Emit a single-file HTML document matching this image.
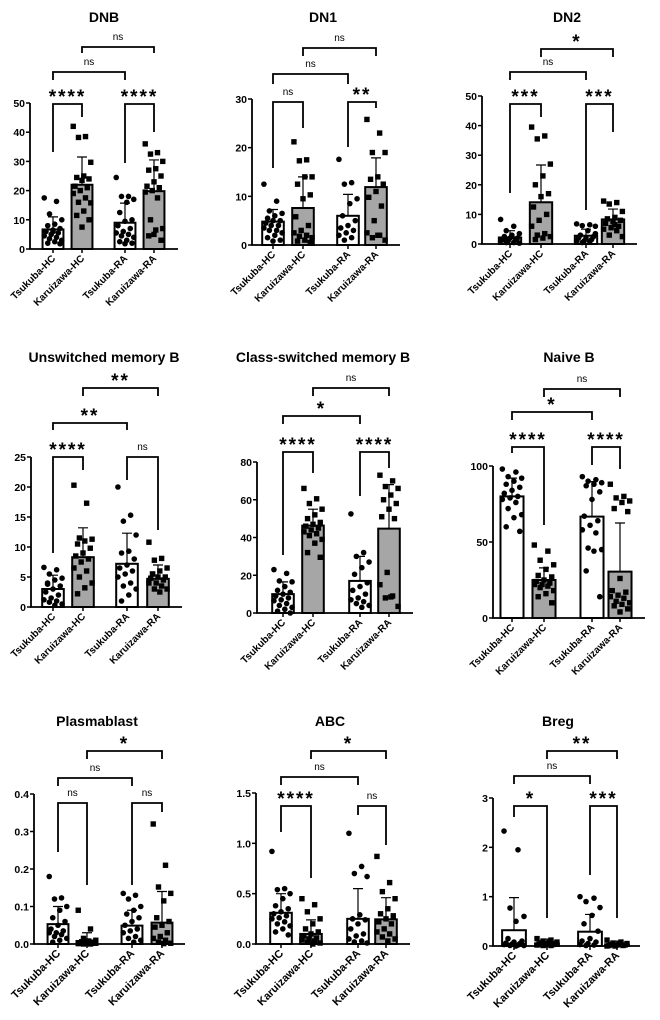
<!DOCTYPE html>
<html><head><meta charset="utf-8"><style>
body{margin:0;background:#fff;}
svg{display:block;font-family:"Liberation Sans",sans-serif;}
</style></head><body>
<svg id="fig" width="660" height="1020" viewBox="0 0 660 1020"></svg>
<script>
const groups = ["Tsukuba-HC","Karuizawa-HC","Tsukuba-RA","Karuizawa-RA"];

const dnbMeans=[6.7,22,9,19.8], dnbSD=[4.3,9.5,6.7,10.7];
const dnbPts=[[17.5,16.3,12,10,8.5,8,7,6.5,6,5.5,5,4.5,4,3.5,3,2.5,2,1.8,6],[42,38.5,38.2,29.7,25,24.5,24,23.5,21.5,21,20,19,17.5,16,15.8,13,11.5,10,7.5],[24.5,18,18,17,16,12.5,10,9.5,8,7,6,5.5,5,4.5,4,3,2.5,2,1.8],[36,33,32.5,30,27.5,27,25,23,21.5,21,20,19.5,17.5,10,7,6.5,4.5,3,5]];
const dnbTicks=[0,10,20,30,40,50];

const dn1Means=[4.8,7.6,6,11.9], dn1SD=[2.5,6.4,4.4,6];
const dn1Pts=[[12.5,9,7,6.5,6,5.5,5,5,4.5,4,4,3.5,3,3,2.5,2,1.5,1,0.8],[21.2,17.5,17.3,14,14,12.5,10.3,9.5,5.8,4,3,2.5,2,1.8,1.5,1,0.8,0.5],[17.6,12.8,12.5,9.5,8.5,6,5,4,3.5,3,2.5,2,1.5,1],[25.8,23,19,19,14,13.5,12.5,11,9.8,8,5,2.5,2,1.5,1,2]];
const dn1Ticks=[0,10,20,30];

const dn2Means=[2.2,14.1,2.8,8.3], dn2SD=[2.3,12.6,2.2,3.5];
const dn2Pts=[[8.3,6,4.5,3.5,3,2.5,2,2,1.5,1.5,1,1,0.5,0.5,0.3,2.5,1.8],[39.5,36.5,35.5,27,23,20,17,16,12.5,10,8,6,3.5,3,2.5,2,1.5],[6.8,6.5,6.2,6,4.5,3,2.5,2,2,1.5,1,1,0.8,0.5,3.5],[14.5,14,13.5,11,9,8.5,8,7.5,7,6,5.5,5,4.5,3,2.5,6.5]];
const dn2Ticks=[0,10,20,30,40,50];

const unsMeans=[3,8.3,7.2,4.7], unsSD=[2.3,4.9,5.1,2.3];
const unsPts=[[6.6,6.2,5.5,4.8,4.5,4,3.5,3,2.5,2,1.5,1.2,1,0.8,0.5,0.3,3.8],[20.3,17.3,11.5,11.3,11,10.5,9.8,9,8.5,8,7.5,6.5,6,5,4,3.2,2.2],[20,15.3,14.3,12,9.3,9,8,7,6.5,6,5.5,5,4,3.5,3,2,1],[10.8,8.1,7.8,6.5,6,5.5,5,5,4.8,4.5,4,4,3.5,3,3,2.5,5.5]];
const unsTicks=[0,5,10,15,20,25];

const csMeans=[10,46.3,17,44.7], csSD=[6.5,8.7,13,23.3];
const csPts=[[23,21,17,16.5,14,12,11,10,9,8,7,6.5,5,4,3,2,1,0],[66,60.5,58,55,52,50,48,47,46,45,44,43,42,41,39,37,32,29.5],[52.5,32,30,27,24,20.5,16,14,12,10,8,7,6,5,4,3],[73,70,67,66,62.5,60,58,55,51,50,21.5,15,9,8,3.5,8.5]];
const csTicks=[0,20,40,60,80];

const nbMeans=[80,25,66.7,30.5], nbSD=[12,8,23,32];
const nbPts=[[98,96,93,92,90,88,86,84,82,80,79,78,76,72,68,66,60,57],[48,44,38,35,32,28,27,25,24,23,22,22,21,20,18,16,14,10],[93,91,90,89,88,87,83,78,67,64,61,58,56,46,45,44,31,14],[88,80,79,77,76,72,70,26,18,17,15,14,13,11,10,9,8,6,4]];
const nbTicks=[0,50,100];

const pbMeans=[0.053,0.008,0.049,0.057], pbSD=[0.047,0.022,0.041,0.083];
const pbPts=[[0.18,0.123,0.12,0.1,0.09,0.07,0.06,0.05,0.04,0.035,0.03,0.03,0.025,0.02,0.015,0.01,0.005],[0.09,0.04,0.015,0.01,0.008,0.006,0.005,0.004,0.003,0.002,0.001,0.001,0,0,0.002],[0.135,0.13,0.12,0.1,0.09,0.08,0.07,0.06,0.05,0.04,0.035,0.03,0.02,0.015,0.01,0.005],[0.32,0.21,0.152,0.135,0.115,0.07,0.06,0.05,0.045,0.03,0.02,0.015,0.01,0.005,0.002,0.001]];
const pbTicks=[0,0.1,0.2,0.3,0.4];
const pbTickLabels=["0.0","0.1","0.2","0.3","0.4"];

const abcMeans=[0.31,0.1,0.25,0.245], abcSD=[0.19,0.14,0.3,0.215];
const abcPts=[[0.92,0.55,0.54,0.5,0.45,0.38,0.35,0.32,0.3,0.28,0.26,0.25,0.22,0.2,0.18,0.15,0.12,0.09],[0.45,0.39,0.32,0.25,0.2,0.15,0.12,0.1,0.08,0.06,0.05,0.04,0.03,0.02,0.01,0.0],[1.1,0.77,0.7,0.67,0.29,0.25,0.24,0.2,0.15,0.1,0.08,0.05,0.03,0.02,0.01],[0.87,0.61,0.52,0.45,0.35,0.3,0.28,0.25,0.22,0.2,0.15,0.12,0.1,0.07,0.05,0.03]];
const abcTicks=[0,0.5,1.0,1.5];
const abcTickLabels=["0.0","0.5","1.0","1.5"];

const bregMeans=[0.32,0.05,0.29,0.03], bregSD=[0.66,0.09,0.35,0.07];
const bregPts=[[2.33,1.95,0.77,0.6,0.5,0.15,0.1,0.08,0.06,0.05,0.04,0.03,0.02,0.01,0.01,0],[0.15,0.12,0.1,0.08,0.07,0.06,0.05,0.05,0.04,0.03,0.02,0.02,0.01,0.01],[1.0,0.97,0.9,0.78,0.62,0.45,0.3,0.15,0.1,0.08,0.05,0.03,0.02,0.01],[0.12,0.08,0.06,0.05,0.04,0.03,0.02,0.02,0.01,0.01,0,0]];
const bregTicks=[0,1,2,3];

const NS="http://www.w3.org/2000/svg";
const svg=document.getElementById('fig');
function mk(tag,attrs,parent){const e=document.createElementNS(NS,tag);for(const k in attrs)e.setAttribute(k,attrs[k]);(parent||svg).appendChild(e);return e;}

const panels=[
 {key:"dnb",title:"DNB",means:dnbMeans,sd:dnbSD,pts:dnbPts,ticks:dnbTicks,ax:30,y0:249,yTop:103,cx:[53,82,125,154],axEnd:178,ty:22,tx:104,fs:10,
  br:[[0,1,104,152,117,"****"],[2,3,104,163,132,"****"],[0,2,72,80,80,"ns"],[1,3,47,53,53,"ns"]]},
 {key:"dn1",title:"DN1",means:dn1Means,sd:dn1SD,pts:dn1Pts,ticks:dn1Ticks,ax:252,y0:245,yTop:99,cx:[273,303,348,376],axEnd:400,ty:22,tx:323,fs:10,
  br:[[0,1,102,168,128,"ns"],[2,3,102,147,108,"**"],[0,2,74,84,84,"ns"],[1,3,48,56,56,"ns"]]},
 {key:"dn2",title:"DN2",means:dn2Means,sd:dn2SD,pts:dn2Pts,ticks:dn2Ticks,ax:482,y0:244,yTop:96,cx:[510,541,586,613],axEnd:637,ty:22,tx:567,fs:10,
  br:[[0,1,104,193,117,"***"],[2,3,104,210,132,"***"],[0,2,72,80,80,"ns"],[1,3,49,57,57,"*"]]},
 {key:"uns",title:"Unswitched memory B",means:unsMeans,sd:unsSD,pts:unsPts,ticks:unsTicks,ax:31,y0:607,yTop:457,cx:[53,83,127,158],axEnd:182,ty:362,tx:104,fs:10,
  br:[[0,1,457,553,470,"****"],[2,3,457,480,530,"ns"],[0,2,423,430,430,"**"],[1,3,388,396,396,"**"]]},
 {key:"cs",title:"Class-switched memory B",means:csMeans,sd:csSD,pts:csPts,ticks:csTicks,ax:257,y0:613,yTop:462,cx:[283,313,360,389],axEnd:413,ty:362,tx:323,fs:10,
  br:[[0,1,452,555,473,"****"],[2,3,452,496,468,"****"],[0,2,416,424,424,"*"],[1,3,388,396,396,"ns"]]},
 {key:"nb",title:"Naive B",means:nbMeans,sd:nbSD,pts:nbPts,ticks:nbTicks,ax:493,y0:618,yTop:466,cx:[512,544,592,620],axEnd:645,ty:362,tx:569,fs:10,
  br:[[0,1,447,453,525,"****"],[2,3,447,465,469,"****"],[0,2,412,420,420,"*"],[1,3,389,397,397,"ns"]]},
 {key:"pb",title:"Plasmablast",means:pbMeans,sd:pbSD,pts:pbPts,ticks:pbTicks,tl:pbTickLabels,ax:34,y0:944,yTop:794,cx:[58,87,132,162],axEnd:185,ty:726,tx:97,fs:11,
  br:[[0,1,803,852,885,"ns"],[2,3,803,885,812,"ns"],[0,2,778,786,786,"ns"],[1,3,751,759,759,"*"]]},
 {key:"abc",title:"ABC",means:abcMeans,sd:abcSD,pts:abcPts,ticks:abcTicks,tl:abcTickLabels,ax:256,y0:944,yTop:793,cx:[281,311,358,386],axEnd:410,ty:726,tx:330,fs:11,
  br:[[0,1,806,832,878,"****"],[2,3,806,815,845,"ns"],[0,2,777,785,785,"ns"],[1,3,751,759,759,"*"]]},
 {key:"breg",title:"Breg",means:bregMeans,sd:bregSD,pts:bregPts,ticks:bregTicks,ax:493,y0:946,yTop:798,cx:[514,547,590,617],axEnd:640,ty:726,tx:558,fs:11,
  br:[[0,1,806,817,918,"*"],[2,3,806,875,918,"***"],[0,2,776,784,784,"ns"],[1,3,751,759,759,"**"]]}
];

panels.forEach(p=>{
 const g=mk('g',{});
 
 
 const maxT=p.ticks[p.ticks.length-1];
 const ys=v=>p.y0-(v/maxT)*(p.y0-p.yTop);
 const bw=(p.cx[1]-p.cx[0])*0.72;
 const t=mk('text',{x:p.tx,y:p.ty,'text-anchor':'middle','font-size':14,'font-weight':'bold'},g);
 t.textContent=p.title;
 
 
 p.means.forEach((m,i)=>{
  const r=mk('rect',{x:p.cx[i]-bw/2,y:ys(m),width:bw,height:p.y0-ys(m),fill:i%2?'#a6a6a6':'#fff',stroke:'#000','stroke-width':2},g);
  
  
 });
 p.means.forEach((m,i)=>{
  const top=ys(m+p.sd[i]);
  const e=mk('path',{d:`M${p.cx[i]},${ys(m)}V${top}M${p.cx[i]-5},${top}H${p.cx[i]+5}`,stroke:'#000','stroke-width':1.2,fill:'none'},g);
  
  
 });
 p.pts.forEach((arr,i)=>{
  arr.forEach((v,j)=>{
   const dx=(((j*7)%11)-5)/5*bw*0.42;
   const x=p.cx[i]+dx, y=ys(v);
   let el;
   if(i%2===0) el=mk('circle',{cx:x,cy:y,r:2.8,fill:'#000'},g);
   else el=mk('rect',{x:x-2.7,y:y-2.7,width:5.4,height:5.4,fill:'#000'},g);
   
   
  });
 });
 const ax=mk('path',{d:`M${p.ax},${p.yTop}V${p.y0}H${p.axEnd}`,stroke:'#000','stroke-width':1.8,fill:'none'},g);
 
 
 p.ticks.forEach((v,k)=>{
  const y=ys(v);
  mk('line',{x1:p.ax-4,x2:p.ax,y1:y,y2:y,stroke:'#000','stroke-width':1.5},g);
  const tl=mk('text',{x:p.ax-5,y:y+4,'text-anchor':'end','font-size':10.5,'font-weight':'bold'},g);
  tl.textContent=p.tl?p.tl[k]:String(v);
  
  
 });
 groups.forEach((gname,i)=>{
  mk('line',{x1:p.cx[i],x2:p.cx[i],y1:p.y0,y2:p.y0+4,stroke:'#000','stroke-width':1.5},g);
  const x=p.cx[i]+3,y=p.y0+10;
  const xl=mk('text',{x:x,y:y,'text-anchor':'end','font-size':p.fs,'font-weight':'bold',transform:`rotate(-45 ${x} ${y})`},g);
  xl.textContent=gname;
  
  
 });
 p.br.forEach(b=>{
  const x1=p.cx[b[0]],x2=p.cx[b[1]];
  const bp=mk('path',{d:`M${x1},${b[3]}V${b[2]}H${x2}V${b[4]}`,stroke:'#000','stroke-width':1.8,fill:'none'},g);
  
  
  const isNs=b[5]==='ns';
  const lt=mk('text',{x:(x1+x2)/2,y:isNs?b[2]-7:b[2]-1,'text-anchor':'middle','font-size':isNs?10:19,'font-weight':isNs?'normal':'bold','letter-spacing':isNs?0:2},g);
  lt.textContent=b[5];
  
  
 });
});
</script>
</body></html>
